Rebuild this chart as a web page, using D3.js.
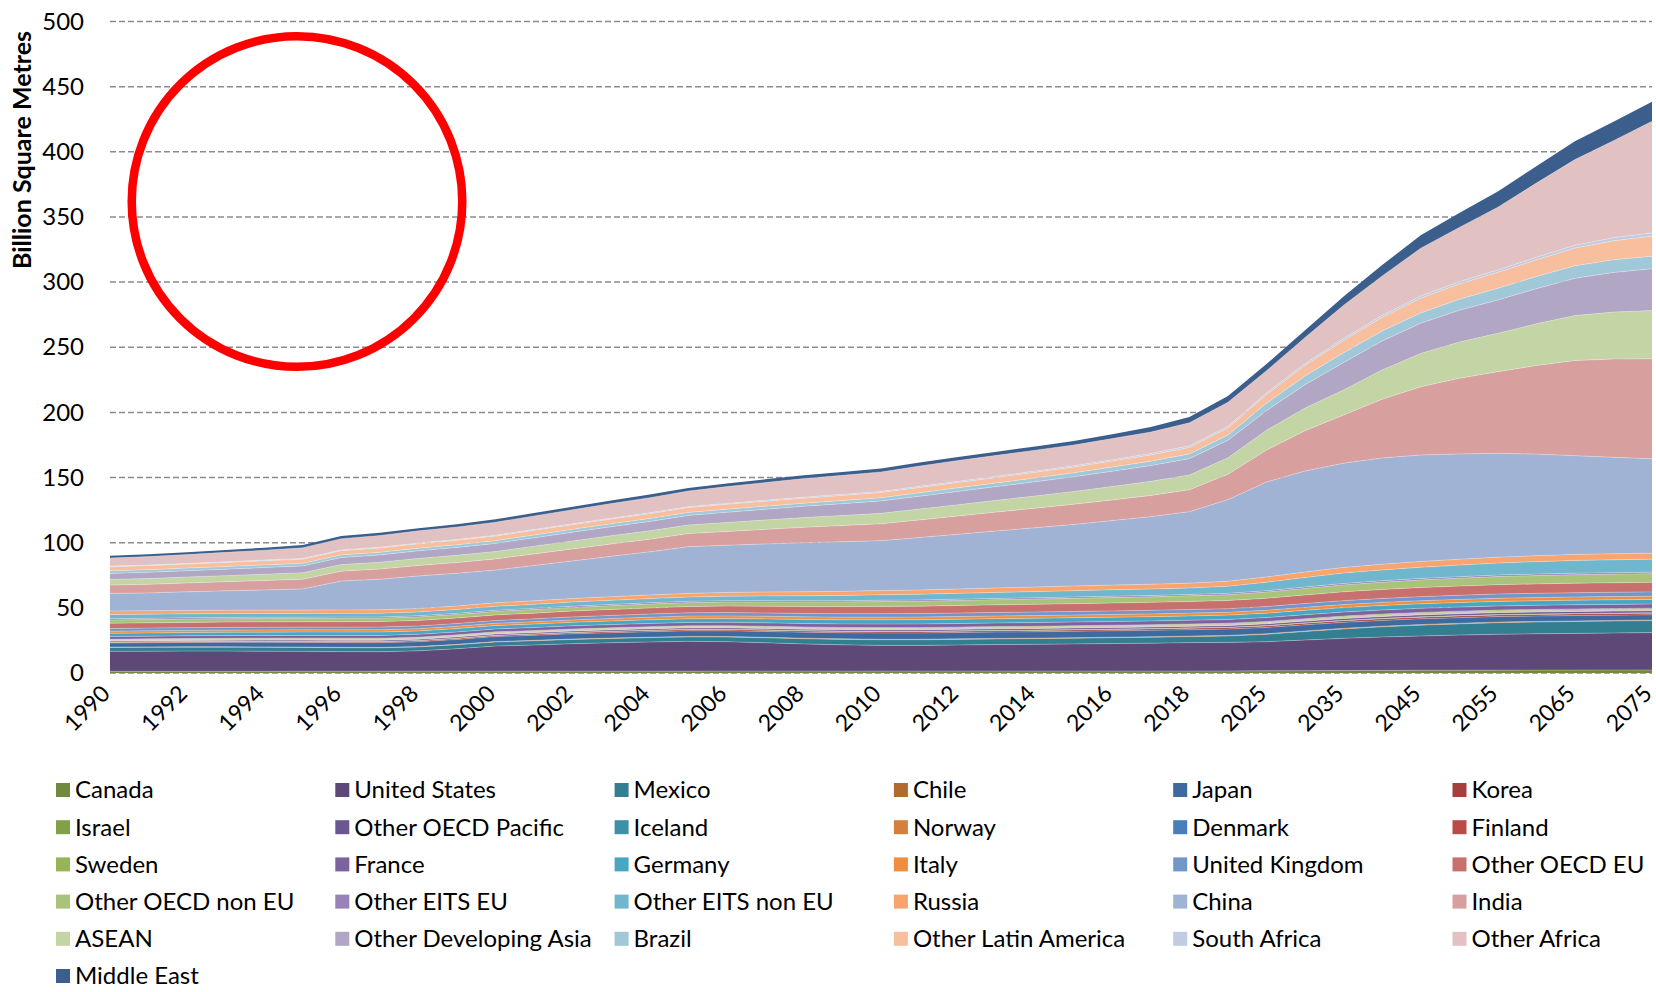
<!DOCTYPE html>
<html><head><meta charset="utf-8">
<script src="https://cdn.jsdelivr.net/npm/d3@7"></script>
<style>
body{margin:0;background:#fff;}
svg{display:block;font-family:Lato,"Open Sans",sans-serif;}
</style></head><body>
<svg id="chart" width="1656" height="992"></svg>
<script>
const categories = ["1990","1991","1992","1993","1994","1995","1996","1997","1998","1999","2000","2001","2002","2003","2004","2005","2006","2007","2008","2009","2010","2011","2012","2013","2014","2015","2016","2017","2018","2020","2025","2030","2035","2040","2045","2050","2055","2060","2065","2070","2075"];
const tickLabels = ["1990","1992","1994","1996","1998","2000","2002","2004","2006","2008","2010","2012","2014","2016","2018","2025","2035","2045","2055","2065","2075"];
const yTicks = [0,50,100,150,200,250,300,350,400,450,500];
const seriesNames = ["Canada","United States","Mexico","Chile","Japan","Korea","Israel","Other OECD Pacific","Iceland","Norway","Denmark","Finland","Sweden","France","Germany","Italy","United Kingdom","Other OECD EU","Other OECD non EU","Other EITS EU","Other EITS non EU","Russia","China","India","ASEAN","Other Developing Asia","Brazil","Other Latin America","South Africa","Other Africa","Middle East"];
const seriesColors = ["#71893f","#5d4877","#337e90","#b16a30","#3f6a9f","#a33f3c","#80a04a","#6a5690","#3c91a8","#d47f3b","#4a7ebb","#bb4b48","#96b556","#7e62a0","#47a7c2","#f08e3f","#7396c8","#c8706e","#a9c47a","#9783b6","#70b7cd","#f7a46f","#a1b3d4","#d7a09f","#c3d4a5","#b1a6c4","#a0c8d8","#f8bf9f","#c1cce2","#e2c1c2","#3b5e8c"];

const canada = [1.3,1.3,1.3,1.3,1.3,1.35,1.35,1.35,1.4,1.4,1.4,1.4,1.4,1.4,1.4,1.4,1.45,1.45,1.45,1.45,1.5,1.5,1.5,1.5,1.5,1.5,1.5,1.5,1.5,1.55,1.7,1.8,1.9,2.0,2.1,2.15,2.2,2.22,2.25,2.28,2.3];
const unitedStates = [15.3,15.4,15.5,15.5,15.4,15.25,15.05,14.95,15.6,17.2,19.3,20.1,21.1,21.8,22.4,22.9,22.55,21.75,20.85,20.15,19.7,19.7,20.0,20.3,20.5,20.8,21.1,21.4,21.8,21.95,22.3,23.5,24.7,25.6,26.3,26.95,27.5,27.88,28.15,28.42,28.7];
const mexico = [3.0,3.0,3.0,3.0,3.0,3.0,3.0,3.0,3.0,3.05,3.1,3.2,3.25,3.3,3.35,3.4,3.6,3.8,4.0,4.2,4.3,4.3,4.3,4.35,4.35,4.4,4.45,4.5,4.6,4.9,5.7,6.5,7.2,7.8,8.3,8.6,8.9,9.0,9.1,9.15,9.2];
const chile = [0.3,0.3,0.31,0.31,0.32,0.32,0.33,0.33,0.34,0.34,0.35,0.35,0.36,0.36,0.37,0.37,0.38,0.38,0.39,0.39,0.4,0.4,0.41,0.41,0.41,0.42,0.42,0.42,0.43,0.44,0.45,0.46,0.47,0.47,0.48,0.48,0.49,0.49,0.5,0.5,0.5];
const japan = [3.1,3.2,3.3,3.4,3.5,3.55,3.6,3.65,3.7,3.75,3.8,3.9,4.0,4.1,4.2,4.3,4.4,4.5,4.6,4.7,4.8,4.82,4.84,4.86,4.88,4.9,4.9,4.9,4.9,4.88,4.8,4.7,4.6,4.5,4.4,4.3,4.2,4.15,4.1,4.05,4.0];
const korea = [0.5,0.53,0.56,0.6,0.63,0.66,0.7,0.72,0.74,0.77,0.8,0.82,0.84,0.86,0.88,0.9,0.92,0.94,0.96,0.98,1.0,1.01,1.02,1.03,1.04,1.05,1.07,1.08,1.1,1.11,1.15,1.17,1.18,1.19,1.2,1.2,1.2,1.2,1.2,1.2,1.2];
const israel = [0.2,0.2,0.21,0.21,0.22,0.22,0.23,0.23,0.24,0.24,0.25,0.25,0.26,0.26,0.27,0.27,0.28,0.28,0.29,0.29,0.3,0.3,0.31,0.31,0.31,0.32,0.32,0.33,0.33,0.34,0.35,0.36,0.37,0.37,0.38,0.38,0.39,0.39,0.4,0.4,0.4];
const otherOecdPacific = [0.8,0.82,0.84,0.86,0.88,0.9,0.92,0.94,0.96,0.98,1.0,1.02,1.04,1.06,1.08,1.1,1.11,1.12,1.13,1.14,1.15,1.16,1.17,1.18,1.19,1.2,1.2,1.21,1.22,1.24,1.3,1.35,1.4,1.43,1.45,1.47,1.48,1.49,1.5,1.5,1.5];
const iceland = [0.05,0.05,0.05,0.05,0.05,0.05,0.05,0.05,0.05,0.05,0.05,0.05,0.05,0.05,0.05,0.05,0.05,0.05,0.05,0.05,0.05,0.05,0.05,0.05,0.05,0.05,0.05,0.05,0.05,0.05,0.06,0.06,0.06,0.06,0.06,0.06,0.06,0.06,0.06,0.06,0.06];
const norway = [0.3,0.3,0.3,0.31,0.31,0.31,0.32,0.32,0.32,0.33,0.33,0.33,0.33,0.34,0.34,0.34,0.34,0.35,0.35,0.35,0.35,0.35,0.35,0.36,0.36,0.36,0.36,0.36,0.36,0.36,0.37,0.37,0.38,0.38,0.39,0.39,0.4,0.4,0.4,0.4,0.4];
const denmark = [0.3,0.3,0.3,0.3,0.31,0.31,0.31,0.31,0.32,0.32,0.32,0.32,0.33,0.33,0.33,0.33,0.33,0.34,0.34,0.34,0.34,0.34,0.34,0.35,0.35,0.35,0.35,0.35,0.35,0.36,0.36,0.37,0.37,0.38,0.38,0.39,0.39,0.4,0.4,0.4,0.4];
const finland = [0.3,0.3,0.3,0.3,0.31,0.31,0.31,0.31,0.32,0.32,0.32,0.32,0.33,0.33,0.33,0.33,0.33,0.34,0.34,0.34,0.34,0.34,0.34,0.34,0.34,0.34,0.34,0.34,0.34,0.35,0.35,0.35,0.35,0.35,0.35,0.35,0.35,0.35,0.35,0.35,0.35];
const sweden = [0.5,0.5,0.51,0.51,0.52,0.52,0.53,0.53,0.54,0.54,0.55,0.55,0.56,0.56,0.57,0.58,0.58,0.59,0.59,0.6,0.6,0.6,0.61,0.61,0.62,0.62,0.62,0.63,0.63,0.64,0.66,0.68,0.7,0.71,0.72,0.73,0.74,0.74,0.75,0.75,0.75];
const france = [2.0,2.02,2.04,2.06,2.08,2.1,2.12,2.14,2.16,2.18,2.2,2.26,2.32,2.38,2.44,2.5,2.54,2.58,2.62,2.66,2.7,2.72,2.74,2.76,2.78,2.8,2.82,2.83,2.85,2.88,2.95,3.0,3.05,3.08,3.1,3.12,3.15,3.17,3.2,3.2,3.2];
const germany = [2.5,2.51,2.52,2.53,2.54,2.55,2.56,2.57,2.58,2.59,2.6,2.66,2.72,2.78,2.84,2.9,2.98,3.06,3.14,3.22,3.3,3.3,3.3,3.3,3.3,3.3,3.32,3.33,3.35,3.37,3.4,3.43,3.45,3.48,3.5,3.5,3.5,3.5,3.5,3.5,3.5];
const italy = [1.6,1.62,1.64,1.66,1.68,1.7,1.72,1.74,1.76,1.78,1.8,1.84,1.88,1.92,1.96,2.0,2.0,2.0,2.0,2.0,2.0,2.02,2.04,2.06,2.08,2.1,2.12,2.13,2.15,2.18,2.25,2.3,2.35,2.38,2.4,2.43,2.45,2.48,2.5,2.5,2.5];
const unitedKingdom = [2.1,2.1,2.1,2.1,2.1,2.1,2.1,2.1,2.1,2.1,2.1,2.18,2.26,2.34,2.42,2.5,2.54,2.58,2.62,2.66,2.7,2.7,2.7,2.7,2.7,2.7,2.72,2.73,2.75,2.78,2.85,2.92,3.0,3.05,3.1,3.15,3.2,3.22,3.25,3.28,3.3];
const otherOecdEu = [4.0,4.03,4.06,4.09,4.12,4.15,4.18,4.21,4.24,4.27,4.3,4.4,4.5,4.6,4.7,4.8,4.96,5.12,5.28,5.44,5.6,5.68,5.76,5.84,5.92,6.0,6.07,6.13,6.2,6.26,6.4,6.6,6.8,6.9,7.0,7.1,7.2,7.25,7.3,7.3,7.3];
const otherOecdNonEu = [2.5,2.52,2.54,2.56,2.58,2.6,2.62,2.64,2.66,2.68,2.7,2.76,2.82,2.88,2.94,3.0,3.14,3.28,3.42,3.56,3.7,3.78,3.86,3.94,4.02,4.1,4.17,4.23,4.3,4.45,4.7,5.0,5.3,5.55,5.8,6.0,6.2,6.35,6.5,6.55,6.6];
const otherEitsEu = [1.0,0.98,0.96,0.94,0.92,0.9,0.9,0.9,0.9,0.9,0.9,0.92,0.94,0.96,0.98,1.0,1.0,1.0,1.0,1.0,1.0,1.0,1.0,1.0,1.0,1.0,1.0,1.0,1.0,1.02,1.05,1.08,1.1,1.12,1.15,1.16,1.18,1.19,1.2,1.2,1.2];
const otherEitsNonEu = [3.3,3.2,3.1,3.0,2.95,2.9,2.9,2.9,2.92,2.96,3.0,3.06,3.12,3.18,3.24,3.3,3.48,3.66,3.84,4.02,4.2,4.34,4.48,4.62,4.76,4.9,4.93,4.97,5.0,5.5,6.5,7.3,8.0,8.3,8.6,8.9,9.2,9.5,9.8,9.9,10.0];
const russia = [2.6,2.58,2.56,2.54,2.52,2.5,2.54,2.58,2.62,2.66,2.7,2.72,2.74,2.76,2.78,2.8,2.88,2.96,3.04,3.12,3.2,3.28,3.36,3.44,3.52,3.6,3.63,3.67,3.7,3.8,4.1,4.2,4.3,4.35,4.4,4.45,4.5,4.55,4.6,4.6,4.6];
const china = [13.5,13.7,14.3,14.9,15.5,16.3,22.2,23.5,25.0,25.1,25.1,27.1,28.9,31.0,33.1,35.9,36.2,36.9,37.7,38.1,38.3,40.3,42.0,43.7,45.5,47.2,49.5,51.9,54.9,62.6,72.8,77.5,80.0,81.6,81.7,80.9,79.7,78.0,75.8,74.0,72.5];
const india = [6.4,6.6,6.8,7.0,7.2,7.4,7.6,7.8,8.1,8.3,8.6,8.9,9.2,9.5,9.7,10.0,10.6,11.2,11.8,12.4,13.0,13.5,14.0,14.5,15.0,15.5,15.9,16.3,16.8,19.5,24.5,31.0,37.0,45.0,52.4,58.0,62.7,68.0,73.0,75.5,76.7];
const asean = [4.4,4.5,4.6,4.7,4.9,5.0,5.1,5.25,5.4,5.55,5.7,5.9,6.1,6.3,6.45,6.6,6.9,7.2,7.45,7.7,8.0,8.35,8.7,9.05,9.4,9.8,10.3,10.8,11.3,12.6,15.3,17.3,19.2,22.5,25.6,27.8,29.4,32.0,34.5,36.0,37.0];
const otherDevelopingAsia = [4.6,4.7,4.8,4.95,5.1,5.2,5.4,5.6,5.8,6.0,6.2,6.45,6.7,6.95,7.2,7.4,7.8,8.2,8.7,9.1,9.5,9.85,10.2,10.55,10.9,11.3,11.7,12.1,12.6,13.6,15.0,18.0,21.0,22.2,23.2,24.4,25.6,27.0,28.6,30.4,32.0];
const brazil = [2.0,2.0,2.0,2.0,2.0,2.0,2.0,2.0,2.05,2.05,2.1,2.15,2.2,2.2,2.25,2.3,2.35,2.4,2.4,2.45,2.5,2.6,2.7,2.8,2.9,3.0,3.2,3.4,3.6,4.0,5.6,6.7,7.5,7.7,7.9,8.4,9.0,9.3,9.6,9.7,9.7];
const otherLatinAmerica = [3.1,3.1,3.1,3.15,3.15,3.2,3.25,3.3,3.35,3.4,3.5,3.55,3.6,3.65,3.7,3.7,3.75,3.8,3.85,3.9,4.0,4.1,4.15,4.2,4.3,4.4,4.6,4.8,5.0,5.4,6.7,8.1,9.5,10.5,11.3,11.8,12.2,12.8,13.6,14.6,15.4];
const southAfrica = [0.5,0.5,0.5,0.55,0.55,0.6,0.6,0.6,0.65,0.65,0.7,0.7,0.7,0.7,0.7,0.7,0.72,0.74,0.76,0.78,0.8,0.84,0.88,0.92,0.96,1.0,1.05,1.1,1.2,1.2,1.3,1.4,1.5,1.6,1.7,1.8,1.9,2.0,2.2,2.4,2.5];
const otherAfrica = [6.2,6.5,6.8,7.2,7.6,8.2,8.6,9.0,9.3,9.6,10.0,10.4,10.8,11.2,11.6,12.0,12.9,13.6,14.3,14.6,15.0,15.6,16.0,16.0,16.1,16.0,16.2,16.5,17.7,18.5,17.1,20.0,25.5,30.2,36.6,41.6,48.1,56.9,65.7,74.4,85.7];
const middleEast = [1.8,1.8,1.85,1.85,1.9,2.0,2.0,2.05,2.05,2.1,2.2,2.2,2.25,2.3,2.35,2.4,2.45,2.5,2.5,2.55,2.6,2.65,2.7,2.75,2.8,3.0,3.3,3.8,4.5,4.7,5.0,5.5,6.8,8.3,10.0,11.0,12.0,13.0,14.0,14.5,15.0];

const seriesValues = [canada,unitedStates,mexico,chile,japan,korea,israel,otherOecdPacific,iceland,norway,denmark,finland,sweden,france,germany,italy,unitedKingdom,otherOecdEu,otherOecdNonEu,otherEitsEu,otherEitsNonEu,russia,china,india,asean,otherDevelopingAsia,brazil,otherLatinAmerica,southAfrica,otherAfrica,middleEast];

const svg = d3.select("#chart");
const x = d3.scalePoint().domain(categories).range([110, 1652]);
const y = d3.scaleLinear().domain([0, 500]).range([673, 21.5]);

// gridlines
svg.append("g").selectAll("line").data(yTicks).join("line")
  .attr("x1", 110).attr("x2", 1652)
  .attr("y1", d => y(d)).attr("y2", d => y(d))
  .attr("stroke", "#8c8c8c").attr("stroke-width", 1.5).attr("stroke-dasharray", "6,3");

const rows = categories.map((c, i) => {
  const r = {cat: c};
  seriesNames.forEach((n, j) => { r[n] = seriesValues[j][i]; });
  return r;
});
const stacked = d3.stack().keys(seriesNames)(rows);
const area = d3.area().x(d => x(d.data.cat)).y0(d => y(d[0])).y1(d => y(d[1]));
svg.append("g").selectAll("path").data(stacked).join("path")
  .attr("d", area).attr("fill", (d, i) => seriesColors[i]);
const edge = d3.line().x(d => x(d.data.cat)).y(d => y(d[1]));
svg.append("g").selectAll("path").data(stacked.slice(0, -1)).join("path")
  .attr("d", edge).attr("fill", "none")
  .attr("stroke", "rgba(255,255,255,0.35)").attr("stroke-width", 0.8);

// y axis
const yAxis = svg.append("g").attr("transform", "translate(110,0)")
  .call(d3.axisLeft(y).tickValues(yTicks).tickSize(0).tickPadding(26));
yAxis.select(".domain").remove();
yAxis.selectAll("text").attr("font-size", 24).attr("fill", "#000").attr("font-family", "Lato, sans-serif");

// x axis
const xAxis = svg.append("g").attr("transform", "translate(0,673)")
  .call(d3.axisBottom(x).tickValues(tickLabels).tickSize(0).tickPadding(0));
xAxis.select(".domain").remove();
xAxis.selectAll("text")
  .attr("x", 0).attr("y", 0).attr("dy", 0)
  .attr("transform", "translate(1,22) rotate(-45)")
  .attr("text-anchor", "end")
  .attr("font-size", 23).attr("fill", "#000").attr("font-family", "Lato, sans-serif");

// y title
svg.append("text")
  .attr("transform", "translate(31,150) rotate(-90)")
  .attr("text-anchor", "middle")
  .attr("font-size", 25).attr("font-weight", "bold").attr("fill", "#000")
  .text("Billion Square Metres");

// red ring annotation
svg.append("circle")
  .attr("cx", 297).attr("cy", 201.5).attr("r", 165.3)
  .attr("fill", "none").attr("stroke", "#ff0000").attr("stroke-width", 8.5);

// legend
const legend = svg.append("g").selectAll("g").data(seriesNames).join("g")
  .attr("transform", (d, i) => `translate(${56 + (i % 6) * 279.3},${783 + Math.floor(i / 6) * 37.2})`);
legend.append("rect").attr("width", 14).attr("height", 14).attr("fill", (d, i) => seriesColors[i]);
legend.append("text").attr("x", 19).attr("y", 7).attr("dy", "0.35em")
  .attr("font-size", 24).attr("fill", "#000").text(d => d);
</script>
</body></html>
